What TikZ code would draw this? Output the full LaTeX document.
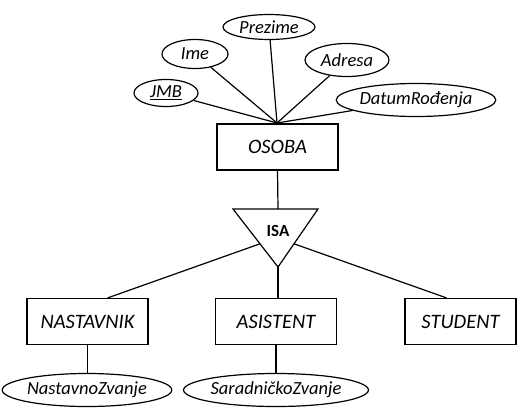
\documentclass[tikz,border=0pt]{standalone}
\usepackage{fontspec}
\setmainfont{Carlito}
\usetikzlibrary{shapes.geometric,calc}
\begin{document}
\begin{tikzpicture}[x=1pt,y=-1pt,
  line width=1.2pt,
  entity/.style={draw,rectangle,minimum width=121pt,minimum height=46pt,inner sep=0pt,
    font=\fontsize{20.5}{24}\selectfont\itshape},
  attr/.style={draw,ellipse,inner sep=0pt,font=\fontsize{18.5}{21}\selectfont\itshape},
  link/.style={draw}]
\useasboundingbox (0,0) rectangle (519,408);

% entity OSOBA and its attributes
\node[entity] (osoba) at (277.5,147) {OSOBA};
\coordinate (hub) at (277,123);
\node[attr,minimum width=64pt,minimum height=27pt] (jmb) at (166,93) {\underline{JMB}};
\node[attr,minimum width=66pt,minimum height=29pt] (ime) at (195,54) {Ime};
\node[attr,minimum width=92pt,minimum height=25pt] (prezime) at (269,27) {Prezime};
\node[attr,minimum width=84pt,minimum height=33pt] (adresa) at (347,60) {Adresa};
\node[attr,minimum width=142pt,minimum height=33pt] (datum) at (416,100) {DatumRođenja};
\foreach \a in {jmb,ime,prezime,adresa,datum}
  \draw[link] (\a) -- (hub);

% ISA triangle
\coordinate (isaL) at (233,209);
\coordinate (isaR) at (318,209);
\coordinate (isaB) at (278,267);
\coordinate (isaT) at (278,209);
\draw[line join=miter] (isaL) -- (isaR) -- (isaB) -- cycle;
\node[font=\fontsize{17}{20}\selectfont\bfseries] (isa) at (278,231) {ISA};
\coordinate (isaLs) at ($(isaL)!0.6!(isaB)$);
\coordinate (isaRs) at ($(isaR)!0.6!(isaB)$);
\draw[link] (osoba.south) -- (isaT);

% subtypes
\node[entity] (nastavnik) at (87.5,321.5) {NASTAVNIK};
\node[entity] (asistent) at (276,321.5) {ASISTENT};
\node[entity,minimum width=111pt] (student) at (460.5,321.5) {STUDENT};
\coordinate (nastTop) at ($(nastavnik.north)!0.33!(nastavnik.north east)$);
\coordinate (studTop) at ($(student.north)!0.25!(student.north west)$);
\draw[link] (isaLs) -- (nastTop);
\draw[link] (isaB) -- (isaB |- asistent.north);
\draw[link] (isaRs) -- (studTop);

% subtype attributes
\node[attr,minimum width=153pt,minimum height=33pt] (nzvanje) at (87,390) {NastavnoZvanje};
\node[attr,minimum width=153pt,minimum height=33pt] (szvanje) at (276,390) {SaradničkoZvanje};
\draw[link] (nzvanje.north -| nastavnik.south) -- (nastavnik.south);
\draw[link] (szvanje) -- (asistent);
\end{tikzpicture}
\end{document}
